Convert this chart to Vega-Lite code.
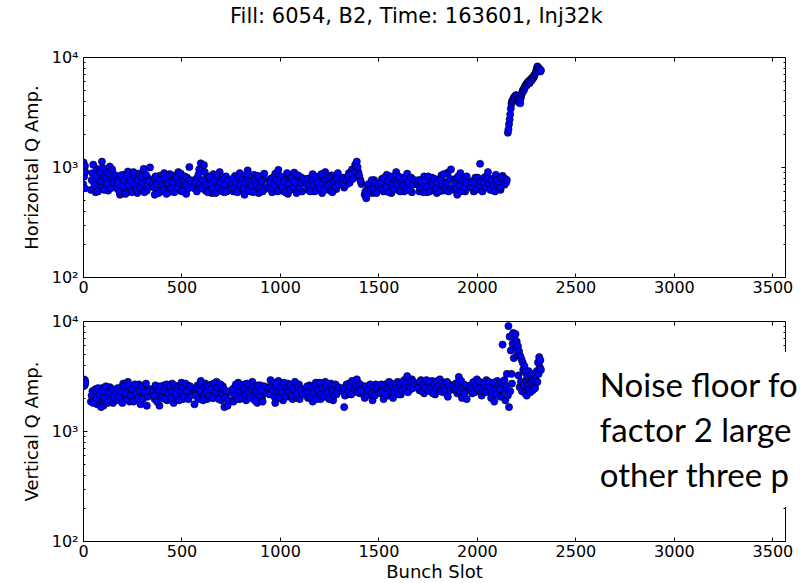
{
 "$schema": "https://vega.github.io/schema/vega-lite/v6.json",
 "padding": {"left": 23, "top": 6, "right": 0, "bottom": 0},
 "title": {"text": "Fill: 6054, B2, Time: 163601, Inj32k", "font": "DejaVu Sans", "fontSize": 21, "fontWeight": "normal", "color": "black", "anchor": "start", "frame": "group", "dx": 147, "offset": 22},
 "config": {
  "view": {"stroke": null},
  "axis": {"labelFont": "DejaVu Sans", "titleFont": "DejaVu Sans", "labelFontSize": 16, "titleFontSize": 18, "titleFontWeight": "normal", "labelColor": "black", "titleColor": "black", "domainColor": "black", "domainWidth": 1, "tickColor": "black", "tickWidth": 1, "grid": false, "labelFlush": false, "labelOverlap": false}
 },
 "data": {"values": [
  {"slot":0,"h":980,"v":2850},{"slot":1,"h":700,"v":2550},{"slot":3,"h":1100,"v":2950},{"slot":6,"h":820,"v":2700},{"slot":9,"h":640,"v":2600},{"slot":10,"h":1020,"v":2900},{"slot":12,"h":900,"v":2750},
  {"slot":40,"h":620,"v":1850},{"slot":48,"h":880,"v":2300},{"slot":56,"h":720,"v":2050},{"slot":64,"h":590,"v":2400},{"slot":72,"h":960,"v":1750},{"slot":80,"h":780,"v":2200},{"slot":88,"h":650,"v":1950},{"slot":96,"h":1120,"v":2450},{"slot":104,"h":840,"v":1700},{"slot":112,"h":700,"v":2150},{"slot":120,"h":920,"v":2350},{"slot":128,"h":610,"v":1900},{"slot":136,"h":1010,"v":2500},{"slot":144,"h":760,"v":2100},{"slot":152,"h":690,"v":1800},{"slot":160,"h":850,"v":2250},
  {"slot":44,"h":760,"v":2100},{"slot":52,"h":1050,"v":1800},{"slot":60,"h":680,"v":2350},{"slot":68,"h":820,"v":2000},{"slot":76,"h":600,"v":2450},{"slot":84,"h":900,"v":2150},{"slot":92,"h":740,"v":1650},{"slot":100,"h":980,"v":2300},{"slot":108,"h":620,"v":2000},{"slot":116,"h":780,"v":2550},{"slot":124,"h":700,"v":1800},{"slot":132,"h":880,"v":2250},{"slot":140,"h":640,"v":1950},{"slot":148,"h":950,"v":2400},{"slot":156,"h":720,"v":2050},
  {"slot":172,"h":640,"v":2200},{"slot":180,"h":780,"v":1900},{"slot":188,"h":560,"v":2450},{"slot":196,"h":700,"v":2100},{"slot":204,"h":850,"v":2700},{"slot":212,"h":620,"v":2000},{"slot":220,"h":730,"v":2350},{"slot":228,"h":910,"v":2800},{"slot":236,"h":600,"v":1850},{"slot":244,"h":690,"v":2250},{"slot":252,"h":810,"v":2550},{"slot":260,"h":650,"v":2150},{"slot":268,"h":740,"v":1950},{"slot":276,"h":580,"v":2400},{"slot":284,"h":870,"v":2650},{"slot":292,"h":700,"v":1750},{"slot":300,"h":630,"v":2300},{"slot":308,"h":960,"v":2050},{"slot":316,"h":720,"v":2500},{"slot":324,"h":610,"v":1700},{"slot":332,"h":790,"v":2200},{"slot":340,"h":990,"v":2400},
  {"slot":176,"h":720,"v":2450},{"slot":184,"h":600,"v":2050},{"slot":192,"h":840,"v":2300},{"slot":200,"h":660,"v":1800},{"slot":208,"h":760,"v":2550},{"slot":216,"h":570,"v":2200},{"slot":224,"h":820,"v":1950},{"slot":232,"h":680,"v":2600},{"slot":240,"h":760,"v":2100},{"slot":248,"h":590,"v":2400},{"slot":256,"h":900,"v":1850},{"slot":264,"h":700,"v":2650},{"slot":272,"h":620,"v":2200},{"slot":280,"h":760,"v":2000},{"slot":288,"h":650,"v":2350},{"slot":296,"h":820,"v":2550},{"slot":304,"h":700,"v":1950},{"slot":312,"h":590,"v":2250},{"slot":320,"h":850,"v":2700},{"slot":328,"h":670,"v":2050},{"slot":336,"h":740,"v":2300},
  {"slot":356,"h":700,"v":2300},{"slot":364,"h":560,"v":1950},{"slot":372,"h":760,"v":2500},{"slot":380,"h":640,"v":2150},{"slot":388,"h":830,"v":1700},{"slot":396,"h":600,"v":2400},{"slot":404,"h":720,"v":2050},{"slot":412,"h":880,"v":2600},{"slot":420,"h":650,"v":2250},{"slot":428,"h":770,"v":1900},{"slot":436,"h":590,"v":2450},{"slot":444,"h":700,"v":2100},{"slot":452,"h":840,"v":2700},{"slot":460,"h":620,"v":1800},{"slot":468,"h":740,"v":2350},{"slot":476,"h":680,"v":2000},{"slot":484,"h":900,"v":2550},{"slot":492,"h":610,"v":2200},{"slot":500,"h":760,"v":2750},{"slot":508,"h":660,"v":1950},{"slot":516,"h":820,"v":2400},{"slot":524,"h":570,"v":2100},{"slot":532,"h":720,"v":2600},{"slot":540,"h":1000,"v":2250},{"slot":548,"h":690,"v":2450},
  {"slot":360,"h":650,"v":2100},{"slot":368,"h":820,"v":2600},{"slot":376,"h":700,"v":1850},{"slot":384,"h":580,"v":2350},{"slot":392,"h":760,"v":2550},{"slot":400,"h":680,"v":2000},{"slot":408,"h":620,"v":2300},{"slot":416,"h":790,"v":1950},{"slot":424,"h":570,"v":2650},{"slot":432,"h":710,"v":2200},{"slot":440,"h":860,"v":2550},{"slot":448,"h":640,"v":2000},{"slot":456,"h":730,"v":2300},{"slot":464,"h":590,"v":2600},{"slot":472,"h":800,"v":2150},{"slot":480,"h":650,"v":2450},{"slot":488,"h":720,"v":1900},{"slot":496,"h":870,"v":2350},{"slot":504,"h":600,"v":2500},{"slot":512,"h":740,"v":2050},{"slot":520,"h":680,"v":2700},{"slot":528,"h":800,"v":2300},{"slot":536,"h":640,"v":1950},{"slot":544,"h":760,"v":2550},
  {"slot":566,"h":640,"v":1750},{"slot":574,"h":780,"v":2300},{"slot":582,"h":690,"v":2600},{"slot":590,"h":950,"v":2050},{"slot":598,"h":1080,"v":2850},{"slot":606,"h":720,"v":2400},{"slot":614,"h":1040,"v":2150},{"slot":622,"h":610,"v":2700},{"slot":630,"h":800,"v":1950},{"slot":638,"h":670,"v":2500},{"slot":646,"h":740,"v":2250},{"slot":654,"h":580,"v":2650},{"slot":662,"h":860,"v":2000},{"slot":670,"h":700,"v":2450},{"slot":678,"h":630,"v":2800},{"slot":686,"h":770,"v":2150},{"slot":694,"h":900,"v":2350},{"slot":702,"h":650,"v":1900},{"slot":710,"h":730,"v":2550},{"slot":718,"h":590,"v":1650},{"slot":726,"h":820,"v":2100},{"slot":734,"h":680,"v":1700},
  {"slot":570,"h":720,"v":2100},{"slot":578,"h":600,"v":2450},{"slot":586,"h":850,"v":1950},{"slot":594,"h":700,"v":2350},{"slot":602,"h":640,"v":2650},{"slot":610,"h":760,"v":1900},{"slot":618,"h":900,"v":2500},{"slot":626,"h":690,"v":2250},{"slot":634,"h":590,"v":2550},{"slot":642,"h":820,"v":2100},{"slot":650,"h":700,"v":2400},{"slot":658,"h":630,"v":2000},{"slot":666,"h":760,"v":2700},{"slot":674,"h":580,"v":2250},{"slot":682,"h":840,"v":2500},{"slot":690,"h":660,"v":1950},{"slot":698,"h":720,"v":2650},{"slot":706,"h":600,"v":2200},{"slot":714,"h":780,"v":2400},{"slot":722,"h":690,"v":2000},{"slot":730,"h":600,"v":2300},{"slot":738,"h":750,"v":1900},
  {"slot":756,"h":700,"v":2250},{"slot":764,"h":600,"v":1850},{"slot":772,"h":830,"v":2500},{"slot":780,"h":660,"v":2100},{"slot":788,"h":750,"v":2750},{"slot":796,"h":880,"v":1950},{"slot":804,"h":620,"v":2400},{"slot":812,"h":710,"v":2200},{"slot":820,"h":560,"v":2650},{"slot":828,"h":790,"v":1900},{"slot":836,"h":930,"v":2300},{"slot":844,"h":680,"v":2550},{"slot":852,"h":600,"v":2050},{"slot":860,"h":760,"v":2800},{"slot":868,"h":850,"v":2150},{"slot":876,"h":640,"v":2450},{"slot":884,"h":720,"v":1800},{"slot":892,"h":580,"v":2350},{"slot":900,"h":810,"v":2600},{"slot":908,"h":690,"v":2000},{"slot":916,"h":770,"v":2450},{"slot":924,"h":630,"v":2200},
  {"slot":760,"h":780,"v":2400},{"slot":768,"h":650,"v":2100},{"slot":776,"h":720,"v":2650},{"slot":784,"h":590,"v":1950},{"slot":792,"h":810,"v":2350},{"slot":800,"h":690,"v":2550},{"slot":808,"h":760,"v":2000},{"slot":816,"h":640,"v":2450},{"slot":824,"h":720,"v":2150},{"slot":832,"h":860,"v":2700},{"slot":840,"h":610,"v":2250},{"slot":848,"h":730,"v":2000},{"slot":856,"h":680,"v":2400},{"slot":864,"h":590,"v":2550},{"slot":872,"h":780,"v":1900},{"slot":880,"h":700,"v":2300},{"slot":888,"h":830,"v":2600},{"slot":896,"h":650,"v":2100},{"slot":904,"h":740,"v":2350},{"slot":912,"h":600,"v":1850},{"slot":920,"h":870,"v":2550},
  {"slot":944,"h":660,"v":2500},{"slot":952,"h":780,"v":2900},{"slot":960,"h":590,"v":2200},{"slot":968,"h":720,"v":2750},{"slot":976,"h":870,"v":1800},{"slot":984,"h":640,"v":2400},{"slot":992,"h":940,"v":2850},{"slot":1000,"h":700,"v":2100},{"slot":1008,"h":610,"v":2600},{"slot":1016,"h":800,"v":1900},{"slot":1024,"h":680,"v":2450},{"slot":1032,"h":740,"v":2200},{"slot":1040,"h":570,"v":2700},{"slot":1048,"h":850,"v":2050},{"slot":1056,"h":650,"v":2350},{"slot":1064,"h":720,"v":1950},{"slot":1072,"h":890,"v":2550},{"slot":1080,"h":620,"v":2300},{"slot":1088,"h":760,"v":2000},{"slot":1096,"h":690,"v":2650},{"slot":1104,"h":810,"v":2150},{"slot":1112,"h":600,"v":2400},
  {"slot":948,"h":720,"v":2150},{"slot":956,"h":640,"v":2500},{"slot":964,"h":800,"v":2350},{"slot":972,"h":690,"v":2050},{"slot":980,"h":760,"v":2650},{"slot":988,"h":600,"v":2300},{"slot":996,"h":730,"v":2000},{"slot":1004,"h":820,"v":2450},{"slot":1012,"h":660,"v":2250},{"slot":1020,"h":740,"v":2750},{"slot":1028,"h":590,"v":2050},{"slot":1036,"h":880,"v":2450},{"slot":1044,"h":700,"v":2300},{"slot":1052,"h":620,"v":2600},{"slot":1060,"h":790,"v":2100},{"slot":1068,"h":660,"v":2400},{"slot":1076,"h":730,"v":2800},{"slot":1084,"h":580,"v":2150},{"slot":1092,"h":840,"v":2500},{"slot":1100,"h":650,"v":1950},{"slot":1108,"h":720,"v":2350},{"slot":1116,"h":790,"v":2150},
  {"slot":1134,"h":700,"v":2350},{"slot":1142,"h":620,"v":2000},{"slot":1150,"h":790,"v":2600},{"slot":1158,"h":680,"v":2200},{"slot":1166,"h":860,"v":1850},{"slot":1174,"h":600,"v":2450},{"slot":1182,"h":740,"v":2750},{"slot":1190,"h":660,"v":2100},{"slot":1198,"h":820,"v":2400},{"slot":1206,"h":710,"v":1950},{"slot":1214,"h":580,"v":2550},{"slot":1222,"h":760,"v":2250},{"slot":1230,"h":900,"v":2800},{"slot":1238,"h":650,"v":2050},{"slot":1246,"h":730,"v":2400},{"slot":1254,"h":610,"v":2200},{"slot":1262,"h":840,"v":2650},{"slot":1270,"h":690,"v":1900},{"slot":1278,"h":770,"v":2500},{"slot":1286,"h":630,"v":2150},{"slot":1294,"h":880,"v":2350},
  {"slot":1138,"h":780,"v":2550},{"slot":1146,"h":700,"v":2250},{"slot":1154,"h":600,"v":2050},{"slot":1162,"h":750,"v":2450},{"slot":1170,"h":690,"v":2200},{"slot":1178,"h":820,"v":2600},{"slot":1186,"h":610,"v":1950},{"slot":1194,"h":720,"v":2350},{"slot":1202,"h":640,"v":2750},{"slot":1210,"h":860,"v":2150},{"slot":1218,"h":700,"v":2450},{"slot":1226,"h":620,"v":2050},{"slot":1234,"h":760,"v":2550},{"slot":1242,"h":680,"v":2250},{"slot":1250,"h":800,"v":1950},{"slot":1258,"h":720,"v":2700},{"slot":1266,"h":590,"v":2300},{"slot":1274,"h":740,"v":2100},{"slot":1282,"h":660,"v":2650},{"slot":1290,"h":780,"v":2250},{"slot":1298,"h":700,"v":2500},
  {"slot":1318,"h":720,"v":2300},{"slot":1326,"h":650,"v":1650},{"slot":1334,"h":800,"v":2500},{"slot":1342,"h":700,"v":2150},{"slot":1350,"h":880,"v":2700},{"slot":1358,"h":760,"v":2400},{"slot":1366,"h":950,"v":2850},{"slot":1374,"h":820,"v":2550},{"slot":1382,"h":1050,"v":2300},{"slot":1390,"h":1120,"v":2950},{"slot":1398,"h":900,"v":2450},{"slot":1406,"h":780,"v":2200},{"slot":1414,"h":700,"v":2600},{"slot":1430,"h":560,"v":2000},{"slot":1438,"h":520,"v":2250},{"slot":1446,"h":640,"v":2450},{"slot":1454,"h":600,"v":2150},{"slot":1462,"h":700,"v":2550},{"slot":1470,"h":580,"v":1900},{"slot":1478,"h":760,"v":2400},{"slot":1486,"h":650,"v":2650},{"slot":1494,"h":620,"v":2300},
  {"slot":1322,"h":800,"v":2450},{"slot":1330,"h":690,"v":2100},{"slot":1338,"h":760,"v":2650},{"slot":1346,"h":820,"v":2300},{"slot":1354,"h":720,"v":2550},{"slot":1362,"h":860,"v":2150},{"slot":1370,"h":780,"v":2750},{"slot":1378,"h":930,"v":2400},{"slot":1386,"h":990,"v":2600},{"slot":1394,"h":1000,"v":2250},{"slot":1402,"h":840,"v":2700},{"slot":1410,"h":740,"v":2350},{"slot":1434,"h":600,"v":2550},{"slot":1442,"h":560,"v":2100},{"slot":1450,"h":700,"v":2350},{"slot":1458,"h":620,"v":2650},{"slot":1466,"h":760,"v":2200},{"slot":1474,"h":640,"v":2500},{"slot":1482,"h":720,"v":2100},{"slot":1490,"h":580,"v":2450},{"slot":1498,"h":690,"v":2550},
  {"slot":1510,"h":660,"v":2200},{"slot":1518,"h":780,"v":2500},{"slot":1526,"h":600,"v":1950},{"slot":1534,"h":720,"v":2650},{"slot":1542,"h":850,"v":2350},{"slot":1550,"h":640,"v":2100},{"slot":1558,"h":700,"v":2750},{"slot":1566,"h":580,"v":2400},{"slot":1574,"h":760,"v":2000},{"slot":1582,"h":680,"v":2550},{"slot":1590,"h":900,"v":2300},{"slot":1598,"h":620,"v":2800},{"slot":1606,"h":730,"v":2450},{"slot":1614,"h":660,"v":2150},{"slot":1622,"h":800,"v":2650},{"slot":1630,"h":600,"v":2900},{"slot":1638,"h":720,"v":2500},{"slot":1646,"h":870,"v":3150},{"slot":1654,"h":640,"v":2700},{"slot":1662,"h":750,"v":2400},{"slot":1670,"h":590,"v":2950},{"slot":1678,"h":700,"v":2600},
  {"slot":1514,"h":720,"v":2650},{"slot":1522,"h":640,"v":2300},{"slot":1530,"h":800,"v":2550},{"slot":1538,"h":660,"v":2150},{"slot":1546,"h":740,"v":2450},{"slot":1554,"h":590,"v":2800},{"slot":1562,"h":820,"v":2300},{"slot":1570,"h":690,"v":2600},{"slot":1578,"h":630,"v":2250},{"slot":1586,"h":760,"v":2700},{"slot":1594,"h":700,"v":2450},{"slot":1602,"h":820,"v":2150},{"slot":1610,"h":600,"v":2600},{"slot":1618,"h":720,"v":2350},{"slot":1626,"h":680,"v":2750},{"slot":1634,"h":780,"v":2450},{"slot":1642,"h":640,"v":2650},{"slot":1650,"h":730,"v":2250},{"slot":1658,"h":610,"v":2550},{"slot":1666,"h":800,"v":2800},{"slot":1674,"h":690,"v":2450},{"slot":1682,"h":760,"v":2750},
  {"slot":1700,"h":690,"v":2700},{"slot":1708,"h":600,"v":2350},{"slot":1716,"h":760,"v":2900},{"slot":1724,"h":650,"v":2500},{"slot":1732,"h":820,"v":2200},{"slot":1740,"h":700,"v":2750},{"slot":1748,"h":590,"v":2450},{"slot":1756,"h":740,"v":2600},{"slot":1764,"h":670,"v":2300},{"slot":1772,"h":800,"v":2850},{"slot":1780,"h":620,"v":2550},{"slot":1788,"h":720,"v":2150},{"slot":1796,"h":580,"v":2700},{"slot":1804,"h":770,"v":2400},{"slot":1812,"h":660,"v":2950},{"slot":1820,"h":840,"v":2600},{"slot":1828,"h":610,"v":2250},{"slot":1836,"h":730,"v":2750},{"slot":1844,"h":680,"v":2450},{"slot":1852,"h":890,"v":2050},{"slot":1860,"h":640,"v":2650},{"slot":1868,"h":950,"v":2500},
  {"slot":1704,"h":760,"v":2500},{"slot":1712,"h":650,"v":2800},{"slot":1720,"h":720,"v":2300},{"slot":1728,"h":590,"v":2650},{"slot":1736,"h":760,"v":2450},{"slot":1744,"h":660,"v":2900},{"slot":1752,"h":820,"v":2350},{"slot":1760,"h":600,"v":2750},{"slot":1768,"h":740,"v":2500},{"slot":1776,"h":690,"v":2200},{"slot":1784,"h":780,"v":2650},{"slot":1792,"h":640,"v":2450},{"slot":1800,"h":720,"v":2850},{"slot":1808,"h":600,"v":2600},{"slot":1816,"h":760,"v":2300},{"slot":1824,"h":700,"v":2700},{"slot":1832,"h":860,"v":2500},{"slot":1840,"h":640,"v":2350},{"slot":1848,"h":720,"v":2800},{"slot":1856,"h":600,"v":2550},{"slot":1864,"h":780,"v":2350},
  {"slot":1884,"h":620,"v":2400},{"slot":1892,"h":780,"v":2700},{"slot":1900,"h":560,"v":2200},{"slot":1908,"h":720,"v":3100},{"slot":1916,"h":880,"v":2550},{"slot":1924,"h":640,"v":2000},{"slot":1932,"h":700,"v":2650},{"slot":1940,"h":600,"v":2300},{"slot":1948,"h":820,"v":1950},
  {"slot":1888,"h":700,"v":2550},{"slot":1896,"h":640,"v":2400},{"slot":1904,"h":820,"v":2750},{"slot":1912,"h":680,"v":2300},{"slot":1920,"h":600,"v":2850},{"slot":1928,"h":760,"v":2450},{"slot":1936,"h":660,"v":2200},{"slot":1944,"h":720,"v":2600},
  {"slot":1968,"h":650,"v":2600},{"slot":1976,"h":740,"v":2200},{"slot":1984,"h":600,"v":2800},{"slot":1992,"h":800,"v":2450},{"slot":2000,"h":690,"v":2950},{"slot":2008,"h":760,"v":2300},{"slot":2016,"h":1070,"v":2650},{"slot":2024,"h":720,"v":2100},{"slot":2032,"h":640,"v":2750},{"slot":2040,"h":810,"v":2500},{"slot":2048,"h":700,"v":2900},{"slot":2056,"h":900,"v":2350},{"slot":2064,"h":660,"v":2700},{"slot":2072,"h":780,"v":2000},{"slot":2080,"h":620,"v":2600},{"slot":2088,"h":740,"v":1850},{"slot":2096,"h":850,"v":2500},{"slot":2104,"h":680,"v":2850},{"slot":2112,"h":760,"v":2200},{"slot":2120,"h":620,"v":2050},{"slot":2130,"h":830,"v":6100},{"slot":2136,"h":700,"v":2350},{"slot":2144,"h":780,"v":1900},
  {"slot":1972,"h":720,"v":2450},{"slot":1980,"h":660,"v":2750},{"slot":1988,"h":720,"v":2250},{"slot":1996,"h":620,"v":2600},{"slot":2004,"h":800,"v":2400},{"slot":2012,"h":680,"v":2800},{"slot":2020,"h":740,"v":2450},{"slot":2028,"h":600,"v":2300},{"slot":2036,"h":720,"v":2650},{"slot":2044,"h":650,"v":2250},{"slot":2052,"h":780,"v":2550},{"slot":2060,"h":700,"v":2800},{"slot":2068,"h":620,"v":2450},{"slot":2076,"h":740,"v":2250},{"slot":2084,"h":680,"v":2750},{"slot":2092,"h":600,"v":2400},{"slot":2100,"h":760,"v":2150},{"slot":2108,"h":700,"v":2600},{"slot":2116,"h":650,"v":2400},{"slot":2124,"h":800,"v":2750},{"slot":2140,"h":690,"v":2900},{"slot":2148,"h":720,"v":2550},{"slot":2152,"h":760,"v":3300},
  {"slot":2157,"h":2050,"v":2100},{"slot":2160,"h":2200,"v":9000},{"slot":2163,"h":2450,"v":1650},{"slot":2166,"h":2700,"v":7200},{"slot":2169,"h":3000,"v":2300},{"slot":2172,"h":3400,"v":5400},{"slot":2175,"h":3750,"v":3300},{"slot":2178,"h":3950,"v":2700},{"slot":2181,"h":4050,"v":6200},{"slot":2184,"h":4000,"v":7800},{"slot":2187,"h":4250,"v":4600},{"slot":2190,"h":4350,"v":7000},{"slot":2193,"h":4150,"v":6300},{"slot":2196,"h":4450,"v":7600},{"slot":2199,"h":4500,"v":5700},{"slot":2202,"h":4300,"v":6500},{"slot":2205,"h":4400,"v":4900},{"slot":2208,"h":4150,"v":5900},{"slot":2211,"h":3950,"v":3200},{"slot":2214,"h":3850,"v":5300},{"slot":2217,"h":4050,"v":2500},{"slot":2220,"h":3800,"v":4800},{"slot":2223,"h":4250,"v":2800},{"slot":2226,"h":4550,"v":4500},{"slot":2229,"h":4700,"v":2300},{"slot":2232,"h":4900,"v":4200},{"slot":2235,"h":5050,"v":3600},{"slot":2238,"h":4950,"v":2600},{"slot":2241,"h":5250,"v":3900},{"slot":2244,"h":5400,"v":2200},{"slot":2247,"h":5550,"v":3400},{"slot":2250,"h":5450,"v":2900},{"slot":2253,"h":5750,"v":2100},{"slot":2256,"h":5650,"v":3100},{"slot":2259,"h":5950,"v":2600},{"slot":2262,"h":5850,"v":3500},{"slot":2265,"h":6050,"v":2400},{"slot":2268,"h":5800,"v":2950},{"slot":2271,"h":6200,"v":2250},{"slot":2274,"h":6300,"v":3250},{"slot":2277,"h":6100,"v":2700},{"slot":2280,"h":6450,"v":3000},{"slot":2283,"h":6350,"v":2350},{"slot":2286,"h":6650,"v":3300},{"slot":2289,"h":6550,"v":2600},{"slot":2292,"h":6850,"v":2900},{"slot":2295,"h":7000,"v":2450},{"slot":2298,"h":7200,"v":3150},{"slot":2301,"h":7450,"v":2750},{"slot":2304,"h":7850,"v":3500},{"slot":2307,"h":8200,"v":2800},{"slot":2310,"h":7800,"v":4200},{"slot":2313,"h":7600,"v":3300},{"slot":2316,"h":7900,"v":4700},{"slot":2319,"h":7650,"v":3800},{"slot":2322,"h":7400,"v":4400},{"slot":2325,"h":7550,"v":3600}
 ]},
 "spacing": 44,
 "bounds": "flush",
 "vconcat": [
  {
   "width": 702, "height": 220,
   "resolve": {"axis": {"x": "independent", "y": "independent"}},
   "layer": [
    {"mark": {"type": "point", "shape": "circle", "filled": true, "size": 52, "fill": "#0000ff", "stroke": "black", "strokeWidth": 0.6, "opacity": 1, "clip": true},
     "encoding": {
      "x": {"field": "slot", "type": "quantitative", "scale": {"domain": [0, 3564], "nice": false, "zero": false}, "axis": {"orient": "bottom", "values": [0,500,1000,1500,2000,2500,3000,3500], "format": "d", "tickSize": -4, "labelPadding": 6, "title": null}},
      "y": {"field": "h", "type": "quantitative", "scale": {"type": "log", "domain": [100, 10000], "nice": false}, "axis": {"orient": "left", "values": [100,1000,10000], "labelExpr": "datum.value == 100 ? '10²' : datum.value == 1000 ? '10³' : '10⁴'", "tickSize": -4, "labelPadding": 9, "title": "Horizontal Q Amp.", "titlePadding": 10}}
     }},
    {"data": {"values": [{}]}, "mark": {"type": "point", "opacity": 0},
     "encoding": {
      "x": {"datum": 0, "type": "quantitative", "scale": {"domain": [0, 3564], "nice": false, "zero": false}, "axis": {"orient": "top", "values": [0,500,1000,1500,2000,2500,3000,3500], "tickSize": -4, "labels": false, "title": null}},
      "y": {"datum": 100, "type": "quantitative", "scale": {"type": "log", "domain": [100, 10000], "nice": false}, "axis": {"orient": "right", "values": [100,1000,10000], "tickSize": -4, "labels": false, "title": null}}
     }},
    {"data": {"values": [{}]}, "mark": {"type": "point", "opacity": 0},
     "encoding": {
      "x": {"datum": 0, "type": "quantitative", "scale": {"domain": [0, 3564], "nice": false, "zero": false}, "axis": null},
      "y": {"datum": 100, "type": "quantitative", "scale": {"type": "log", "domain": [100, 10000], "nice": false}, "axis": {"orient": "left", "values": [200,300,400,500,600,700,800,900,2000,3000,4000,5000,6000,7000,8000,9000], "tickSize": -2, "labels": false, "domain": false, "title": null}}
     }},
    {"data": {"values": [{}]}, "mark": {"type": "point", "opacity": 0},
     "encoding": {
      "x": {"datum": 0, "type": "quantitative", "scale": {"domain": [0, 3564], "nice": false, "zero": false}, "axis": null},
      "y": {"datum": 100, "type": "quantitative", "scale": {"type": "log", "domain": [100, 10000], "nice": false}, "axis": {"orient": "right", "values": [200,300,400,500,600,700,800,900,2000,3000,4000,5000,6000,7000,8000,9000], "tickSize": -2, "labels": false, "domain": false, "title": null}}
     }}
   ]
  },
  {
   "width": 702, "height": 220,
   "resolve": {"axis": {"x": "independent", "y": "independent"}},
   "layer": [
    {"mark": {"type": "point", "shape": "circle", "filled": true, "size": 52, "fill": "#0000ff", "stroke": "black", "strokeWidth": 0.6, "opacity": 1, "clip": true},
     "encoding": {
      "x": {"field": "slot", "type": "quantitative", "scale": {"domain": [0, 3564], "nice": false, "zero": false}, "axis": {"orient": "bottom", "values": [0,500,1000,1500,2000,2500,3000,3500], "format": "d", "tickSize": -4, "labelPadding": 6, "title": "Bunch Slot", "titlePadding": 4}},
      "y": {"field": "v", "type": "quantitative", "scale": {"type": "log", "domain": [100, 10000], "nice": false}, "axis": {"orient": "left", "values": [100,1000,10000], "labelExpr": "datum.value == 100 ? '10²' : datum.value == 1000 ? '10³' : '10⁴'", "tickSize": -4, "labelPadding": 9, "title": "Vertical Q Amp.", "titlePadding": 10}}
     }},
    {"data": {"values": [{}]}, "mark": {"type": "point", "opacity": 0},
     "encoding": {
      "x": {"datum": 0, "type": "quantitative", "scale": {"domain": [0, 3564], "nice": false, "zero": false}, "axis": {"orient": "top", "values": [0,500,1000,1500,2000,2500,3000,3500], "tickSize": -4, "labels": false, "title": null}},
      "y": {"datum": 100, "type": "quantitative", "scale": {"type": "log", "domain": [100, 10000], "nice": false}, "axis": {"orient": "right", "values": [100,1000,10000], "tickSize": -4, "labels": false, "title": null}}
     }},
    {"data": {"values": [{}]}, "mark": {"type": "point", "opacity": 0},
     "encoding": {
      "x": {"datum": 0, "type": "quantitative", "scale": {"domain": [0, 3564], "nice": false, "zero": false}, "axis": null},
      "y": {"datum": 100, "type": "quantitative", "scale": {"type": "log", "domain": [100, 10000], "nice": false}, "axis": {"orient": "left", "values": [200,300,400,500,600,700,800,900,2000,3000,4000,5000,6000,7000,8000,9000], "tickSize": -2, "labels": false, "domain": false, "title": null}}
     }},
    {"data": {"values": [{}]}, "mark": {"type": "point", "opacity": 0},
     "encoding": {
      "x": {"datum": 0, "type": "quantitative", "scale": {"domain": [0, 3564], "nice": false, "zero": false}, "axis": null},
      "y": {"datum": 100, "type": "quantitative", "scale": {"type": "log", "domain": [100, 10000], "nice": false}, "axis": {"orient": "right", "values": [200,300,400,500,600,700,800,900,2000,3000,4000,5000,6000,7000,8000,9000], "tickSize": -2, "labels": false, "domain": false, "title": null}}
     }},
    {"data": {"values": [{}]}, "mark": {"type": "rect", "fill": "white", "stroke": null},
     "encoding": {
      "x": {"datum": 2570, "type": "quantitative", "scale": {"domain": [0, 3564], "nice": false, "zero": false}, "axis": null},
      "x2": {"datum": 3900},
      "y": {"datum": 5224, "type": "quantitative", "scale": {"type": "log", "domain": [100, 10000], "nice": false}, "axis": null},
      "y2": {"datum": 204}
     }},
    {"data": {"values": [{}]}, "mark": {"type": "text", "text": ["Noise floor fo", "factor 2 large", "other three p"], "align": "left", "baseline": "alphabetic", "font": "Lato", "fontSize": 33, "lineHeight": 45, "color": "black"},
     "encoding": {
      "x": {"datum": 2624, "type": "quantitative", "scale": {"domain": [0, 3564], "nice": false, "zero": false}, "axis": null},
      "y": {"datum": 2037, "type": "quantitative", "scale": {"type": "log", "domain": [100, 10000], "nice": false}, "axis": null}
     }}
   ]
  }
 ]
}
